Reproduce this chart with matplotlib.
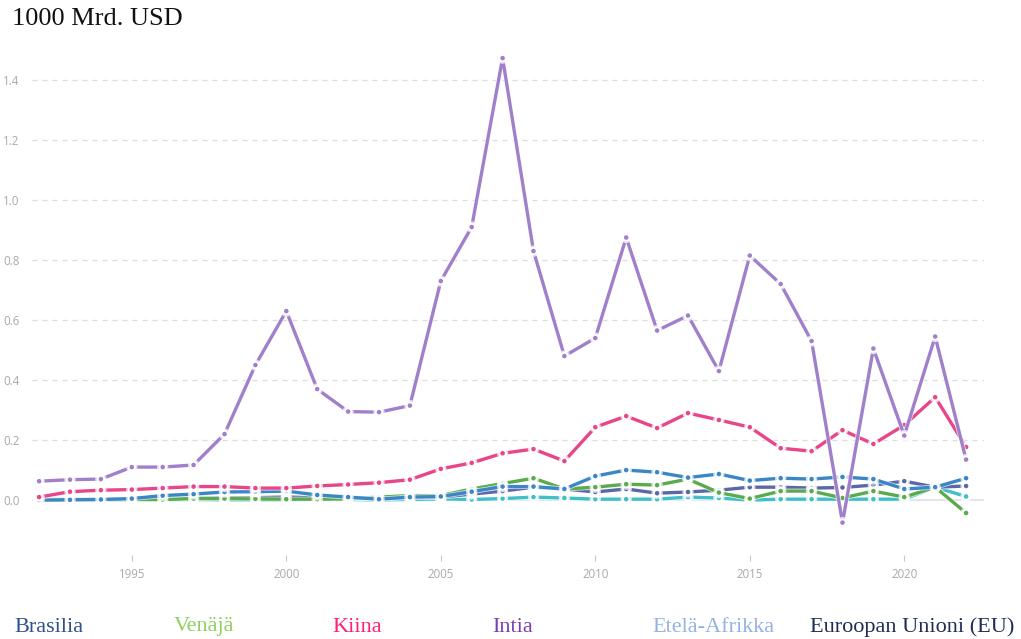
import matplotlib
matplotlib.use("Agg")
import matplotlib.pyplot as plt
import matplotlib.patheffects as pe
import numpy as np

years = list(range(1992, 2023))

brasilia = [0.000, 0.001, 0.002, 0.005, 0.015, 0.020, 0.027, 0.028, 0.030, 0.017,
            0.010, 0.003, 0.010, 0.012, 0.028, 0.045, 0.045, 0.037, 0.080, 0.100,
            0.093, 0.075, 0.087, 0.065, 0.073, 0.070, 0.077, 0.070, 0.037, 0.043, 0.073]
venaja = [0.000, 0.001, 0.001, 0.002, 0.002, 0.005, 0.005, 0.004, 0.003, 0.003,
          0.004, 0.010, 0.015, 0.015, 0.037, 0.055, 0.073, 0.037, 0.043, 0.053,
          0.050, 0.070, 0.025, 0.005, 0.030, 0.030, 0.007, 0.030, 0.010, 0.043, -0.043]
kiina = [0.010, 0.028, 0.033, 0.035, 0.040, 0.045, 0.045, 0.040, 0.040, 0.047,
         0.052, 0.058, 0.068, 0.104, 0.124, 0.156, 0.170, 0.130, 0.243, 0.280,
         0.240, 0.290, 0.267, 0.243, 0.173, 0.163, 0.233, 0.187, 0.250, 0.343, 0.177]
intia = [0.063, 0.068, 0.070, 0.110, 0.110, 0.117, 0.220, 0.450, 0.630, 0.370,
         0.295, 0.293, 0.315, 0.730, 0.910, 1.473, 0.830, 0.480, 0.540, 0.875,
         0.565, 0.615, 0.430, 0.815, 0.720, 0.530, -0.075, 0.505, 0.215, 0.545, 0.135]
etela_afrikka = [0.000, 0.000, 0.001, 0.002, 0.001, 0.002, 0.001, 0.001, 0.001, 0.003,
                 0.002, 0.001, 0.002, 0.004, 0.002, 0.005, 0.010, 0.007, 0.003, 0.003,
                 0.003, 0.010, 0.007, 0.000, 0.003, 0.003, 0.003, 0.003, 0.003, 0.043, 0.012]
eu = [0.002, 0.003, 0.003, 0.004, 0.005, 0.006, 0.008, 0.008, 0.010, 0.008,
      0.007, 0.006, 0.008, 0.010, 0.020, 0.030, 0.043, 0.037, 0.027, 0.037,
      0.023, 0.027, 0.033, 0.043, 0.043, 0.040, 0.042, 0.050, 0.063, 0.043, 0.047]

labels = ["Brasilia", "Venäjä", "Kiina", "Intia", "Etelä-Afrikka", "Euroopan Unioni (EU)"]
y_ticks = [0.0, 0.2, 0.4, 0.6, 0.8, 1.0, 1.2, 1.4]
x_ticks = [1995, 2000, 2005, 2010, 2015, 2020]

line_colors = {
    "Brasilia": "#3a86c6",
    "Venäjä": "#5aab4e",
    "Kiina": "#e8458a",
    "Intia": "#a07fcb",
    "Etelä-Afrikka": "#3fbfc8",
    "Euroopan Unioni (EU)": "#5b67a6",
}
legend_colors = {
    "Brasilia": "#2f4f8f",
    "Venäjä": "#8fd15f",
    "Kiina": "#ff1f78",
    "Intia": "#7b3fae",
    "Etelä-Afrikka": "#93b3e3",
    "Euroopan Unioni (EU)": "#1f2d55",
}
series = {
    "Brasilia": brasilia, "Venäjä": venaja, "Kiina": kiina,
    "Intia": intia, "Etelä-Afrikka": etela_afrikka, "Euroopan Unioni (EU)": eu,
}

fig = plt.figure(figsize=(10.21, 6.39), dpi=100)
ax = fig.add_axes([32 / 1021, 1 - 555 / 639, (984 - 32) / 1021, (555 - 35) / 639])
ax.set_xlim(1991.77, 2022.58)
ax.set_ylim(-0.183, 1.55)

for yt in y_ticks[1:]:
    ax.axhline(yt, color="#dcdcdc", lw=0.9, ls=(0, (4, 4)), zorder=0)
ax.axhline(0, color="#e4e6ea", lw=1.5, zorder=0)

order = ["Etelä-Afrikka", "Euroopan Unioni (EU)", "Venäjä", "Brasilia", "Kiina", "Intia"]
for i, name in enumerate(order):
    ax.plot(years, series[name], color=line_colors[name], lw=2.4,
            marker="o", markersize=4.6, markerfacecolor=line_colors[name],
            markeredgecolor="white", markeredgewidth=1.3,
            solid_joinstyle="round", zorder=2 + i,
            path_effects=[pe.Stroke(linewidth=3.6, foreground="white", alpha=0.7), pe.Normal()])

for s in ax.spines.values():
    s.set_visible(False)
ax.set_yticks(y_ticks)
ax.set_yticklabels([f"{v:.1f}" for v in y_ticks])
ax.set_xticks(x_ticks)
ax.tick_params(axis="y", length=0, pad=9, labelsize=8.3, labelcolor="#a8a8a8")
ax.tick_params(axis="x", length=4, width=0.8, color="#c8c8c8", pad=5,
               labelsize=8.3, labelcolor="#a8a8a8")
for lab in ax.get_xticklabels() + ax.get_yticklabels():
    lab.set_family("Open Sans")

fig.text(12 / 1021, 1 - 19 / 639, "1000 Mrd. USD", family="Liberation Serif",
         fontsize=19, color="#111111", va="center", ha="left")

legend_x = [14, 174, 332, 492, 652, 810]
for name, x in zip(labels, legend_x):
    fig.text(x / 1021, 1 - 627 / 639, name, family="Liberation Serif",
             fontsize=16, color=legend_colors[name], va="center", ha="left")

fig.savefig("out.png", dpi=100, facecolor="white")
